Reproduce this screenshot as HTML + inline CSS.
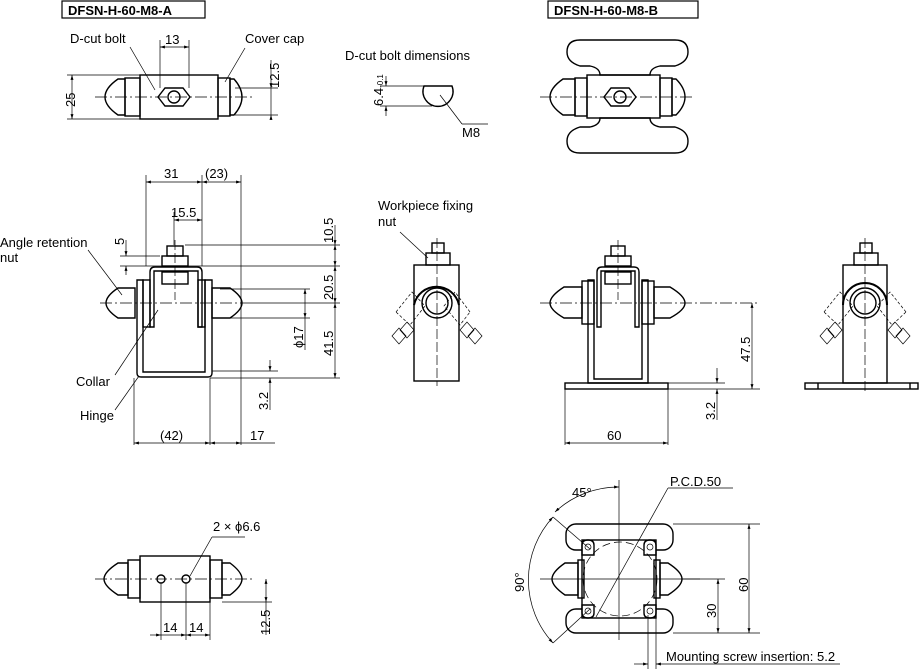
<!DOCTYPE html>
<html><head><style>
body{margin:0;background:#fff}
svg{display:block}
text{font-family:"Liberation Sans",sans-serif;font-size:13px;fill:#000}
</style></head><body>
<svg width="919" height="669" viewBox="0 0 919 669" xmlns="http://www.w3.org/2000/svg" fill="none" stroke="#000" stroke-width="1">
<defs><marker id="a" viewBox="0 0 10 10" refX="10" refY="5" markerWidth="7" markerHeight="7" orient="auto-start-reverse"><path d="M0,2 L10,5 L0,8z" fill="#000" stroke="none"/></marker></defs>

<rect x="62" y="1" width="143" height="17" stroke-width="1.2"/>
<text x="68" y="15" stroke="none" font-weight="bold">DFSN-H-60-M8-A</text>
<rect x="548" y="1" width="150" height="17" stroke-width="1.2"/>
<text x="554" y="15" stroke="none" font-weight="bold">DFSN-H-60-M8-B</text>

<!-- top A view -->
<g stroke-width="1.4">
<path d="M125,79 L118,79 Q105,88 105,97 Q105,106 118,115 L125,115z"/>
<rect x="125" y="78" width="15" height="38"/>
<rect x="140" y="75" width="78" height="44"/>
<rect x="218" y="78" width="12" height="38"/>
<path d="M230,79 L234,79 Q242,88 242,97 Q242,106 234,115 L230,115z"/>
<polygon points="165,88 183,88 190,97 183,106 165,106 158,97"/>
<circle cx="174" cy="97" r="6"/>
</g>
<line x1="95" y1="97" x2="255" y2="97" stroke-dasharray="12 3 2 3" stroke-width=".7"/>
<line x1="67" y1="75" x2="140" y2="75" stroke-width=".7"/><line x1="67" y1="119" x2="140" y2="119" stroke-width=".7"/>
<line x1="72" y1="75" x2="72" y2="119" marker-start="url(#a)" marker-end="url(#a)" stroke-width=".7"/>
<text x="57" y="105" stroke="none" transform="rotate(-90 67 97)">25</text>
<line x1="160" y1="40" x2="160" y2="88" stroke-width=".7"/><line x1="189" y1="40" x2="189" y2="88" stroke-width=".7"/>
<line x1="160" y1="47" x2="189" y2="47" marker-start="url(#a)" marker-end="url(#a)" stroke-width=".7"/>
<text x="165" y="44" stroke="none">13</text>
<text x="70" y="43" stroke="none">D-cut bolt</text>
<line x1="130" y1="47" x2="155" y2="90" stroke-width=".7"/>
<text x="245" y="43" stroke="none">Cover cap</text>
<line x1="245" y1="48" x2="225" y2="82" stroke-width=".7"/>
<line x1="235" y1="88" x2="278" y2="88" stroke-width=".7"/><line x1="235" y1="115" x2="278" y2="115" stroke-width=".7"/>
<line x1="271" y1="60" x2="271" y2="88" marker-end="url(#a)" stroke-width=".7"/>
<line x1="271" y1="115" x2="271" y2="120" marker-start="url(#a)" stroke-width=".7"/>
<line x1="271" y1="88" x2="271" y2="115" stroke-width=".7"/>
<text x="255" y="92" stroke="none" transform="rotate(-90 265 78)">12.5</text>

<!-- D-cut bolt dimensions -->
<text x="345" y="60" stroke="none">D-cut bolt dimensions</text>
<path d="M424,86 L452,86 A15,15 0 1 1 424,86z" stroke-width="1.4"/>
<line x1="380" y1="86" x2="424" y2="86" stroke-width=".7"/><line x1="380" y1="106" x2="432" y2="106" stroke-width=".7"/>
<line x1="386" y1="76" x2="386" y2="86" marker-end="url(#a)" stroke-width=".7"/>
<line x1="386" y1="106" x2="386" y2="116" marker-start="url(#a)" stroke-width=".7"/>
<text x="366" y="103" stroke="none" transform="rotate(-90 376 96)">6.4<tspan font-size="8">-0.1</tspan></text>
<line x1="440" y1="95" x2="462" y2="124" stroke-width=".7"/><line x1="462" y1="124" x2="488" y2="124" stroke-width=".7"/>
<text x="462" y="137" stroke="none">M8</text>

<!-- top B view -->
<g stroke-width="1.4">
<path d="M580,40 L675,40 Q688,40 688,52 Q688,62 675,66 L660,66 Q650,68 650,75 L600,75 Q600,68 590,66 L580,66 Q567,62 567,52 Q567,40 580,40z"/>
<path d="M580,153 L675,153 Q688,153 688,141 Q688,131 675,127 L660,127 Q650,125 650,118 L600,118 Q600,125 590,127 L580,127 Q567,131 567,141 Q567,153 580,153z"/>
<path d="M575,79 L563,79 Q550,88 550,97 Q550,106 563,115 L575,115z"/>
<rect x="575" y="78" width="12" height="38"/>
<rect x="587" y="75" width="73" height="43"/>
<rect x="660" y="78" width="12" height="38"/>
<path d="M672,79 L676,79 Q685,88 685,97 Q685,106 676,115 L672,115z"/>
<polygon points="611,88 629,88 636,97 629,106 611,106 604,97"/>
<circle cx="620" cy="97" r="6"/>
</g>
<line x1="540" y1="97" x2="695" y2="97" stroke-dasharray="12 3 2 3" stroke-width=".7"/>

<!-- Front A -->
<g stroke-width="1.4">
<path d="M137,280 L137,373 Q137,377 141,377 L208,377 Q212,377 212,373 L212,280 L205,280 L205,372 L143,372 L143,280z"/>
<path d="M150,327 L150,272 Q150,267 155,267 L197,267 Q202,267 202,272 L202,327 L198,327 L198,271 L154,271 L154,327z"/>
<rect x="143" y="280" width="7" height="47"/><rect x="198" y="280" width="7" height="47"/>
<path d="M135,288 L118,288 Q106,296 106,303 Q106,310 118,318 L135,318z"/>
<path d="M212,288 L230,288 Q242,296 242,303 Q242,310 230,318 L212,318z"/>
<rect x="162" y="256" width="26" height="10"/><rect x="167" y="246" width="16" height="10"/>
<rect x="162" y="272" width="26" height="12"/>
</g>
<line x1="100" y1="303" x2="250" y2="303" stroke-dasharray="12 3 2 3" stroke-width=".7"/>
<line x1="175" y1="240" x2="175" y2="300" stroke-dasharray="10 3" stroke-width=".7"/>
<g stroke-width=".7">
<line x1="146" y1="175" x2="146" y2="266"/><line x1="202" y1="175" x2="202" y2="266"/><line x1="241" y1="175" x2="241" y2="445"/>
<line x1="146" y1="182" x2="202" y2="182" marker-start="url(#a)" marker-end="url(#a)"/>
<line x1="202" y1="182" x2="241" y2="182" marker-start="url(#a)" marker-end="url(#a)"/>
<line x1="174" y1="212" x2="174" y2="245"/>
<line x1="174" y1="220" x2="202" y2="220" marker-start="url(#a)" marker-end="url(#a)"/>
<line x1="185" y1="245" x2="340" y2="245"/><line x1="120" y1="266" x2="340" y2="266"/>
<line x1="120" y1="256" x2="160" y2="256"/>
<line x1="126" y1="240" x2="126" y2="256" marker-end="url(#a)"/><line x1="126" y1="266" x2="126" y2="275" marker-start="url(#a)"/>
<line x1="335" y1="225" x2="335" y2="245" marker-end="url(#a)"/>
<line x1="335" y1="245" x2="335" y2="266" marker-start="url(#a)" marker-end="url(#a)"/>
<line x1="335" y1="266" x2="335" y2="303" marker-start="url(#a)" marker-end="url(#a)"/>
<line x1="335" y1="303" x2="335" y2="378" marker-start="url(#a)" marker-end="url(#a)"/>
<line x1="250" y1="303" x2="340" y2="303"/><line x1="210" y1="378" x2="340" y2="378"/>
<line x1="220" y1="289" x2="310" y2="289"/><line x1="220" y1="318" x2="310" y2="318"/>
<line x1="305" y1="289" x2="305" y2="318" marker-start="url(#a)" marker-end="url(#a)"/>
<line x1="305" y1="318" x2="305" y2="350"/>
<line x1="270" y1="360" x2="270" y2="371" marker-end="url(#a)"/><line x1="270" y1="378" x2="270" y2="410" marker-start="url(#a)"/>
<line x1="212" y1="371" x2="278" y2="371"/>
<line x1="134" y1="378" x2="134" y2="445"/><line x1="210" y1="378" x2="210" y2="445"/>
<line x1="134" y1="443" x2="210" y2="443" marker-start="url(#a)" marker-end="url(#a)"/>
<line x1="210" y1="443" x2="241" y2="443" marker-start="url(#a)" marker-end="url(#a)"/>
<line x1="241" y1="443" x2="275" y2="443"/>
<line x1="88" y1="250" x2="122" y2="295"/><line x1="115" y1="375" x2="158" y2="310"/><line x1="115" y1="410" x2="139" y2="376"/>
</g>
<g stroke="none">
<text x="164" y="178">31</text><text x="205" y="178">(23)</text><text x="171" y="217">15.5</text>
<text transform="translate(124 245) rotate(-90)">5</text>
<text transform="translate(333 243) rotate(-90)">10.5</text>
<text transform="translate(333 300) rotate(-90)">20.5</text>
<text transform="translate(333 356) rotate(-90)">41.5</text>
<text transform="translate(303 348) rotate(-90)">ϕ17</text>
<text transform="translate(268 410) rotate(-90)">3.2</text>
<text x="160" y="440">(42)</text><text x="250" y="440">17</text>
<text x="0" y="247">Angle retention</text><text x="0" y="262">nut</text>
<text x="76" y="386">Collar</text><text x="80" y="420">Hinge</text>
<text x="378" y="210">Workpiece fixing</text><text x="378" y="226">nut</text>
</g>

<!-- side view (A) -->
<g stroke-width="1.4">
<rect x="414" y="265" width="45" height="116"/>
<rect x="426" y="253" width="24" height="12"/><rect x="432" y="243" width="12" height="10"/>
<path d="M414,305 A23,23 0 0 1 459,305" stroke-width="2"/>
<circle cx="437" cy="303" r="15"/><circle cx="437" cy="303" r="11"/>
</g>
<g stroke-width=".7">
<line x1="437" y1="238" x2="437" y2="386" stroke-dasharray="10 3"/>
<line x1="400" y1="232" x2="428" y2="258"/>
<path d="M396,312 L412,292 L425,306 L410,325z M470,312 L455,292 L444,306 L460,325z" stroke-dasharray="3 2"/>
<path d="M392,336 L399,328 L406,336 L399,344z M400,330 L407,322 L414,330 L407,338z M482,336 L475,328 L468,336 L475,344z M474,330 L467,322 L460,330 L467,338z"/>
</g>

<!-- Front B -->
<g stroke-width="1.4">
<path d="M588,280 L588,383 L648,383 L648,280 L642,280 L642,379 L594,379 L594,280z"/>
<path d="M597,327 L597,272 Q597,267 602,267 L634,267 Q639,267 639,272 L639,327 L635,327 L635,271 L601,271 L601,327z"/>
<rect x="582" y="281" width="12" height="43"/><rect x="642" y="281" width="12" height="43"/>
<path d="M582,287 L564,287 Q550,296 550,303 Q550,310 564,318 L582,318z"/>
<path d="M654,287 L670,287 Q685,296 685,303 Q685,310 670,318 L654,318z"/>
<rect x="605" y="256" width="26" height="10"/><rect x="611" y="246" width="14" height="10"/>
<rect x="605" y="272" width="26" height="12"/>
<rect x="565" y="383" width="103" height="6"/>
</g>
<g stroke-width=".7">
<line x1="540" y1="303" x2="760" y2="303" stroke-dasharray="12 3 2 3"/>
<line x1="618" y1="240" x2="618" y2="300" stroke-dasharray="10 3"/>
<line x1="668" y1="389" x2="760" y2="389"/><line x1="668" y1="383" x2="725" y2="383"/>
<line x1="752" y1="303" x2="752" y2="389" marker-start="url(#a)" marker-end="url(#a)"/>
<line x1="717" y1="368" x2="717" y2="383" marker-end="url(#a)"/><line x1="717" y1="389" x2="717" y2="420" marker-start="url(#a)"/>
<line x1="565" y1="389" x2="565" y2="445"/><line x1="668" y1="389" x2="668" y2="445"/>
<line x1="565" y1="443" x2="668" y2="443" marker-start="url(#a)" marker-end="url(#a)"/>
</g>
<g stroke="none"><text transform="translate(750 362) rotate(-90)">47.5</text><text transform="translate(715 420) rotate(-90)">3.2</text><text x="607" y="440">60</text></g>

<!-- side B -->
<g stroke-width="1.4">
<rect x="843" y="265" width="44" height="118"/>
<rect x="854" y="253" width="24" height="12"/><rect x="860" y="243" width="12" height="10"/>
<path d="M843,305 A22,22 0 0 1 887,305" stroke-width="2"/>
<circle cx="865" cy="303" r="15"/><circle cx="865" cy="303" r="11"/>
<rect x="805" y="383" width="113" height="6"/>
<line x1="818" y1="383" x2="818" y2="389"/><line x1="910" y1="383" x2="910" y2="389"/>
</g>
<g stroke-width=".7">
<line x1="865" y1="238" x2="865" y2="394" stroke-dasharray="10 3"/>
<path d="M824,312 L840,292 L853,306 L838,325z M906,312 L890,292 L877,306 L892,325z" stroke-dasharray="3 2"/>
<path d="M820,336 L827,328 L834,336 L827,344z M828,330 L835,322 L842,330 L835,338z M910,336 L903,328 L896,336 L903,344z M902,330 L895,322 L888,330 L895,338z"/>
</g>

<!-- bottom A -->
<g stroke-width="1.4">
<path d="M128,563 L118,563 Q104,572 104,579 Q104,586 118,595 L128,595z"/>
<rect x="128" y="560" width="12" height="38"/>
<rect x="140" y="556" width="70" height="46"/>
<rect x="210" y="560" width="12" height="38"/>
<path d="M222,563 L230,563 Q242,572 242,579 Q242,586 230,595 L222,595z"/>
<circle cx="161" cy="579" r="4"/><circle cx="186" cy="579" r="4"/>
</g>
<g stroke-width=".7">
<line x1="95" y1="579" x2="255" y2="579" stroke-dasharray="12 3 2 3"/>
<line x1="161" y1="583" x2="161" y2="640"/><line x1="186" y1="583" x2="186" y2="640"/><line x1="210" y1="602" x2="210" y2="640"/>
<line x1="150" y1="635" x2="161" y2="635" marker-end="url(#a)"/><line x1="161" y1="635" x2="186" y2="635" marker-end="url(#a)"/><line x1="186" y1="635" x2="210" y2="635" marker-start="url(#a)" marker-end="url(#a)"/>
<line x1="222" y1="602" x2="272" y2="602"/>
<line x1="266" y1="579" x2="266" y2="602" marker-start="url(#a)" marker-end="url(#a)"/><line x1="266" y1="602" x2="266" y2="635"/>
<line x1="190" y1="576" x2="212" y2="537"/><line x1="212" y1="537" x2="245" y2="537"/>
</g>
<g stroke="none"><text x="213" y="531">2 × ϕ6.6</text><text x="163" y="632">14</text><text x="189" y="632">14</text>
<text transform="translate(270 635) rotate(-90)">12.5</text></g>

<!-- bottom B -->
<g stroke-width="1.4">
<rect x="566" y="524" width="107" height="26" rx="10"/>
<rect x="566" y="609" width="107" height="24" rx="10"/>
<rect x="582" y="540" width="74" height="78" fill="#fff"/>
<path d="M582,555 L582,545 Q582,540 588,540 Q594,540 594,545 L594,555z M656,555 L656,545 Q656,540 650,540 Q644,540 644,545 L644,555z M582,605 L582,613 Q582,618 588,618 Q594,618 594,613 L594,605z M656,605 L656,613 Q656,618 650,618 Q644,618 644,613 L644,605z"/>
<path d="M578,563 L565,563 Q552,572 552,579 Q552,586 565,595 L578,595z"/>
<rect x="578" y="560" width="6" height="38"/><rect x="654" y="560" width="6" height="38"/>
<path d="M660,563 L668,563 Q682,572 682,579 Q682,586 668,595 L660,595z"/>
</g>
<g stroke-width=".7">
<circle cx="620" cy="579" r="37" stroke-dasharray="8 4"/>
<circle cx="588" cy="547" r="3"/><circle cx="650" cy="547" r="3"/><circle cx="588" cy="611" r="3"/><circle cx="650" cy="611" r="3"/>
<line x1="540" y1="579" x2="700" y2="579"/><line x1="619" y1="480" x2="619" y2="640"/>
<line x1="673" y1="524" x2="760" y2="524"/><line x1="673" y1="633" x2="760" y2="633"/><line x1="682" y1="579" x2="725" y2="579"/>
<line x1="749" y1="524" x2="749" y2="633" marker-start="url(#a)" marker-end="url(#a)"/>
<line x1="718" y1="579" x2="718" y2="633" marker-start="url(#a)" marker-end="url(#a)"/>
<path d="M555,512 A93,93 0 0 1 619,487" marker-start="url(#a)" marker-end="url(#a)"/>
<path d="M553,517 A93,93 0 0 0 553,643" marker-start="url(#a)" marker-end="url(#a)"/>
<line x1="553" y1="517" x2="590" y2="549"/><line x1="553" y1="643" x2="590" y2="609"/>
<line x1="596" y1="617" x2="668" y2="488"/><line x1="668" y1="488" x2="733" y2="488"/>
<line x1="648" y1="615" x2="648" y2="669"/><line x1="656" y1="615" x2="656" y2="669"/>
<line x1="634" y1="664" x2="648" y2="664" marker-end="url(#a)"/><line x1="656" y1="664" x2="840" y2="664" marker-start="url(#a)"/>
</g>
<g stroke="none"><text x="670" y="486">P.C.D.50</text><text x="572" y="497">45°</text>
<text transform="translate(524 592) rotate(-90)">90°</text>
<text transform="translate(748 592) rotate(-90)">60</text><text transform="translate(716 618) rotate(-90)">30</text>
<text x="666" y="661">Mounting screw insertion: 5.2</text></g>
</svg>
</body></html>
